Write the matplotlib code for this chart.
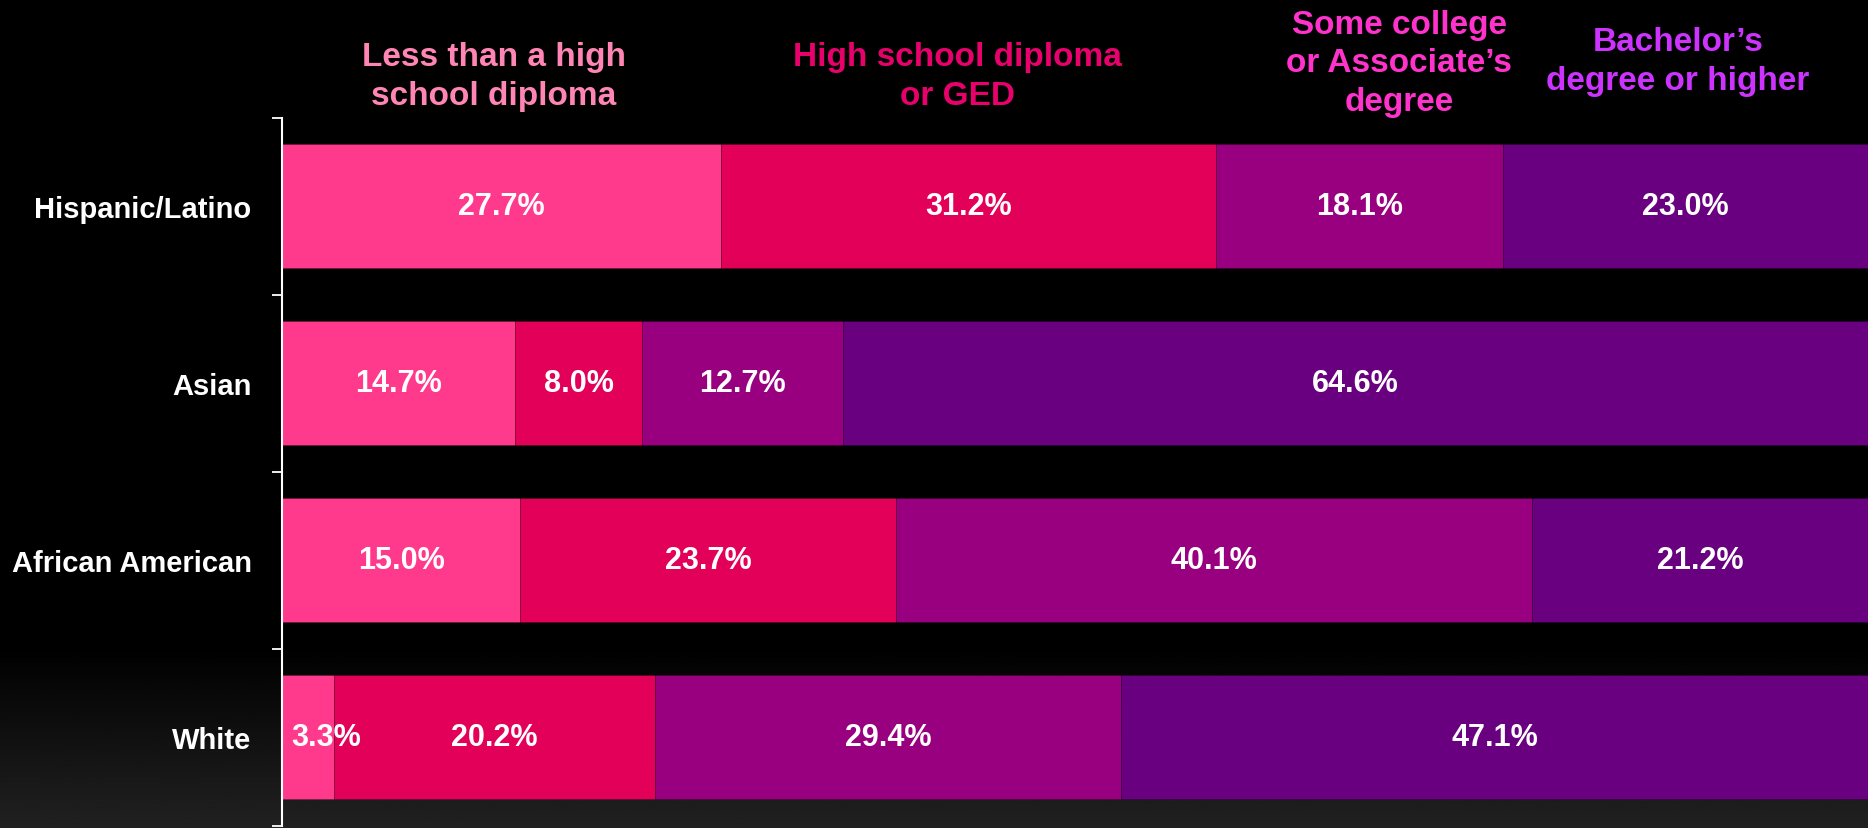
import numpy as np
import matplotlib.pyplot as plt
from matplotlib import font_manager as fm

# pick the regular-width Liberation Sans Bold file (not the Narrow one)
bold_file = None
for f in fm.fontManager.ttflist:
    if f.name == 'Liberation Sans' and f.weight in (700, 'bold') and f.style == 'normal' \
            and 'narrow' not in f.fname.lower():
        bold_file = f.fname
        break
if bold_file:
    fp = fm.FontProperties(fname=bold_file)
else:
    fp = fm.FontProperties(family='DejaVu Sans', weight='bold')

# data
groups = ['Hispanic/Latino', 'Asian', 'African American', 'White']
levels = ['Less than a high\nschool diploma', 'High school diploma\nor GED',
          'Some college\nor Associate\u2019s\ndegree', 'Bachelor\u2019s\ndegree or higher']
less_hs = [27.7, 14.7, 15.0, 3.3]
hs_ged = [31.2, 8.0, 23.7, 20.2]
some_college = [18.1, 12.7, 40.1, 29.4]
bachelors = [23.0, 64.6, 21.2, 47.1]

bar_colors = ['#FF3A8C', '#E20058', '#990080', '#690080']
head_colors = ['#FF85B5', '#E8006C', '#FF33CC', '#CC33FF']

fig = plt.figure(figsize=(18.68, 8.29), dpi=100, facecolor='black')

# background: black with a dark grey fade at the bottom
bg = fig.add_axes([0, 0, 1, 1], zorder=-1)
grad = np.clip((0.22 - np.linspace(0, 1, 400)) / 0.22, 0, 1)[::-1].reshape(-1, 1)
bg.imshow(grad * 0.13, cmap='gray', vmin=0, vmax=1, aspect='auto',
          extent=[0, 1, 0, 1], origin='upper')
bg.axis('off')

ax = fig.add_axes([0.151, 0.003, 0.849, 0.8535])
ax.set_facecolor('none')

series = [less_hs, hs_ged, some_college, bachelors]
y = np.arange(len(groups))
left = np.zeros(len(groups))
for vals, col in zip(series, bar_colors):
    vals = np.array(vals)
    ax.barh(y, vals, left=left, height=0.70, color=col,
            edgecolor='#00000030', linewidth=0.6)
    for yi, l, v in zip(y, left, vals):
        if v < 6:
            ax.text(l + 0.55, yi, f'{v:.1f}%', ha='left', va='center',
                    color='white', fontproperties=fp, fontsize=22)
        else:
            ax.text(l + v / 2, yi, f'{v:.1f}%', ha='center', va='center',
                    color='white', fontproperties=fp, fontsize=22)
    left += vals

ax.set_xlim(0, 100)
ax.set_ylim(3.5, -0.5)
ax.set_xticks([])
ax.set_yticks(np.arange(-0.5, 4, 1))
ax.set_yticklabels([])
ax.set_yticks(y, minor=True)
ax.set_yticklabels(groups, minor=True)
ax.tick_params(axis='y', which='major', direction='out', length=7, width=1.3,
               color='white')
ax.tick_params(axis='y', which='minor', length=0, pad=22, labelcolor='white')
for lab in ax.get_yticklabels(minor=True):
    lab.set_fontproperties(fp)
    lab.set_fontsize(21)
for s in ['top', 'right', 'bottom']:
    ax.spines[s].set_visible(False)
ax.spines['left'].set_color('white')
ax.spines['left'].set_linewidth(1.5)

# column headers above the bars
head_x = [494, 957, 1399, 1678]
head_y = [77, 77, 64, 62]
for txt, col, hx, hy in zip(levels, head_colors, head_x, head_y):
    fig.text(hx / 1868, 1 - hy / 829, txt, ha='center', va='center',
             color=col, fontproperties=fp, fontsize=24, linespacing=1.3)

fig.savefig('out.png', dpi=100, facecolor=fig.get_facecolor())
